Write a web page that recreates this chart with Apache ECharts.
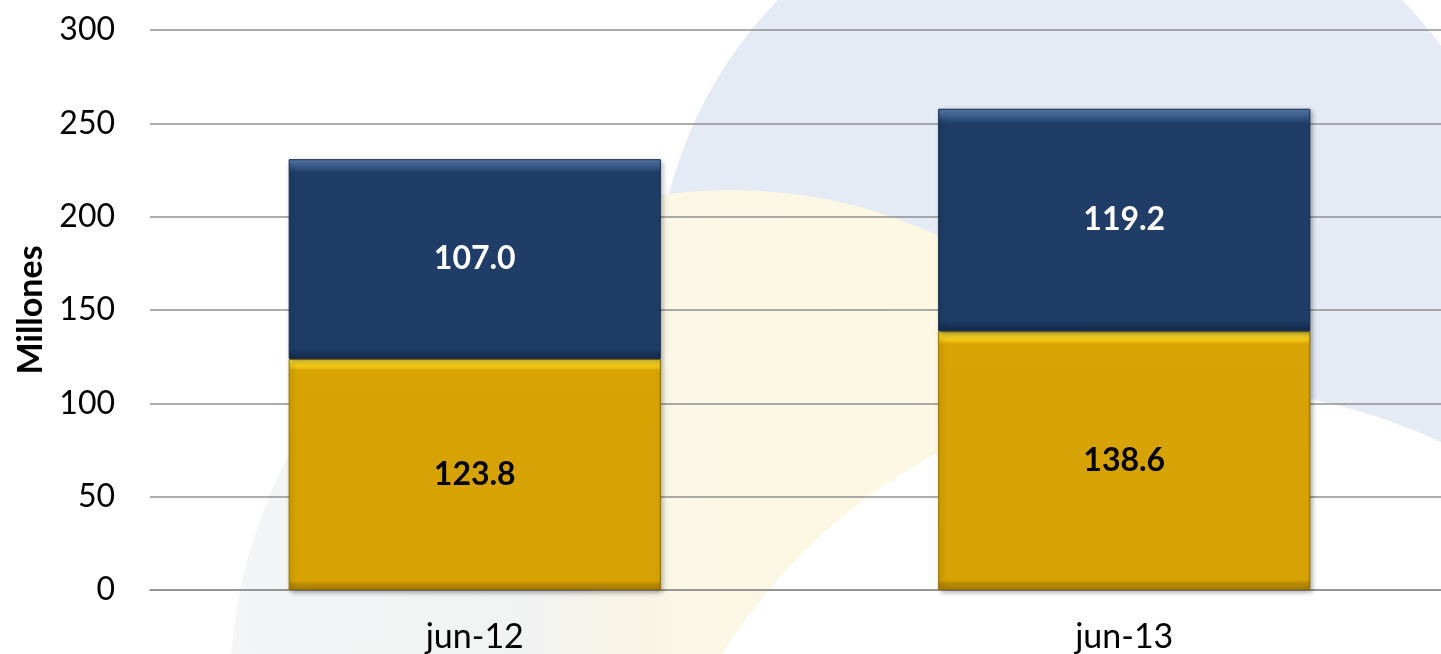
<!DOCTYPE html>
<html>
<head>
<meta charset="utf-8">
<script src="https://cdn.jsdelivr.net/npm/echarts@6/dist/echarts.min.js"></script>
<style>
  html, body { margin: 0; padding: 0; background: #fff; }
  #chart { width: 1441px; height: 654px; }
</style>
</head>
<body>
<div id="chart"></div>
<script>
// datos (millones)
const periodos = ['jun-12', 'jun-13'];
const serieInferior = [123.8, 138.6];   // dorado
const serieSuperior = [107.0, 119.2];   // azul
const ejeY = { min: 0, max: 300, step: 50 };

const FONT = 'Lato';

const chart = echarts.init(document.getElementById('chart'));

const grad = (stops) => new echarts.graphic.LinearGradient(0, 0, 0, 1, stops.map(([o, c]) => ({ offset: o, color: c })));

// marca de agua del fondo (círculos suaves)
const fondo = [
    { type: 'circle', shape: { cx: 1090, cy: 303, r: 435 }, style: { fill: '#e5ebf5' }, z: -30, silent: true },
    {
        type: 'circle', shape: { cx: 730, cy: 690, r: 500 }, z: -29, silent: true,
        style: {
            fill: new echarts.graphic.LinearGradient(0, 0, 1, 0, [
                { offset: 0, color: '#f4f5f6' },
                { offset: 0.3, color: '#f1f2f2' },
                { offset: 0.37, color: '#f6f3e8' },
                { offset: 0.45, color: '#fbf7e4' },
                { offset: 1, color: '#fdf9e1' }
            ])
        }
    },
    { type: 'circle', shape: { cx: 1200, cy: 950, r: 562 }, style: { fill: '#ffffff' }, z: -28, silent: true }
];

chart.setOption({
    backgroundColor: '#ffffff',
    animation: false,
    graphic: { elements: fondo },
    grid: { left: 150, right: -8, top: 30, bottom: 64, outerBoundsMode: 'none', containLabel: false },
    xAxis: {
        type: 'category',
        data: periodos,
        axisLine: { show: true, lineStyle: { color: '#8f8f8f', width: 1.6 } },
        axisTick: { show: false },
        axisLabel: { color: '#000', fontFamily: FONT, fontSize: 34, margin: 30 }
    },
    yAxis: {
        type: 'value',
        min: ejeY.min, max: ejeY.max, interval: ejeY.step,
        name: 'Millones',
        nameLocation: 'middle',
        nameGap: 102,
        nameRotate: 90,
        nameTextStyle: { color: '#000', fontFamily: FONT, fontWeight: 'bold', fontSize: 34 },
        axisLine: { show: false },
        axisTick: { show: false },
        axisLabel: { color: '#000', fontFamily: FONT, fontSize: 32, margin: 35 },
        splitLine: { lineStyle: { color: '#8f8f8f', width: 1.6 } }
    },
    series: [
        {
            name: 'inferior', type: 'bar', stack: 'total', barWidth: '57.3%',
            data: serieInferior,
            itemStyle: {
                color: grad([[0, '#ffe83a'], [0.035, '#f0c414'], [0.05, '#d8a404'], [0.96, '#d6a204'], [0.975, '#b88a02'], [1, '#a87c00']]),
                borderColor: '#8f6c00', borderWidth: 1,
                shadowColor: 'rgba(0,0,0,0.35)', shadowBlur: 5, shadowOffsetX: 2, shadowOffsetY: 2
            },
            label: {
                show: true, position: 'inside', color: '#000', fontFamily: FONT, fontWeight: 'bold', fontSize: 32,
                textBorderWidth: 0, formatter: p => p.value.toFixed(1)
            }
        },
        {
            name: 'superior', type: 'bar', stack: 'total', barWidth: '57.3%',
            data: serieSuperior,
            itemStyle: {
                color: grad([[0, '#5a7eae'], [0.05, '#2c4c7a'], [0.065, '#1f3d66'], [0.95, '#1f3d66'], [0.97, '#19345a'], [1, '#152c4e']]),
                borderColor: '#14294a', borderWidth: 1,
                shadowColor: 'rgba(0,0,0,0.35)', shadowBlur: 5, shadowOffsetX: 2, shadowOffsetY: 2
            },
            label: {
                show: true, position: 'inside', color: '#fff', fontFamily: FONT, fontWeight: 'bold', fontSize: 32,
                textBorderWidth: 0, formatter: p => p.value.toFixed(1)
            }
        }
    ]
});
</script>
</body>
</html>
